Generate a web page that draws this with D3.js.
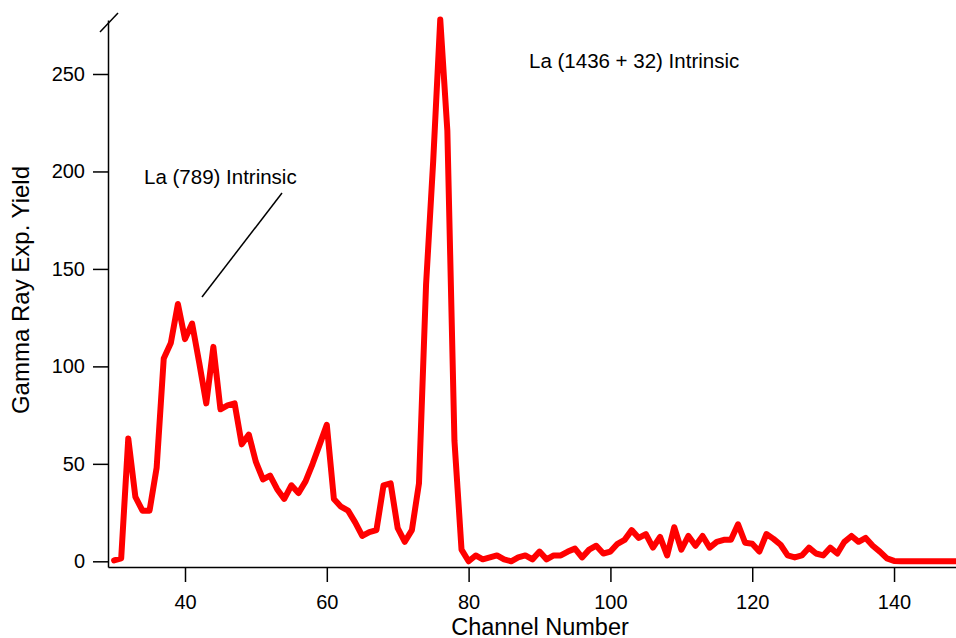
<!DOCTYPE html>
<html>
<head>
<meta charset="utf-8">
<script src="https://d3js.org/d3.v7.min.js"></script>
<style>
  body { margin: 0; background: #fff; }
  svg { display: block; font-family: "Liberation Sans", Arial, sans-serif; }
</style>
</head>
<body>
<svg id="chart" width="956" height="638"></svg>
<script>
// spectrum data: first channel, then yield per channel
var firstChannel = 30;
var yieldValues = [
    0.5, 1.5, 63, 33, 26, 26, 48, 104, 112, 132,      // 30-39
    114, 122, 102, 81, 110, 78, 80, 81, 60, 65,       // 40-49
    51, 42, 44, 37, 32, 39, 35, 41, 50, 60,           // 50-59
    70, 32, 28, 26, 20, 13, 15, 16, 39, 40,           // 60-69
    17, 10, 16, 40, 142, 205, 278, 221, 62, 6,        // 70-79
    0, 3, 1, 2, 3, 1, 0, 2, 3, 1,                     // 80-89
    5, 1, 3, 3, 5, 6.5, 2, 6, 8, 4,                   // 90-99
    5, 9, 11, 16, 12, 14, 7, 12.5, 3, 17.5,           // 100-109
    6, 13, 8, 13, 7, 10, 11, 11, 19, 9.5,             // 110-119
    9, 5, 14, 11.5, 8.5, 3, 2, 3, 7, 4,               // 120-129
    3, 7, 4, 10, 13, 10, 12, 8, 5, 1.5,               // 130-139
    0.2, 0, 0, 0, 0, 0, 0, 0, 0, 0                    // 140-149
];
var xTicks = [40, 60, 80, 100, 120, 140];
var yTicks = [0, 50, 100, 150, 200, 250];

// annotation labels
var annotations = [
    {text: "La (789) Intrinsic", x: 144, y: 184},
    {text: "La (1436 + 32) Intrinsic", x: 529, y: 68}
];

var svg = d3.select("#chart");

var x = d3.scaleLinear().domain([29.14, 148.74]).range([108, 956]);
var y = d3.scaleLinear().domain([-2.92, 277.7]).range([567, 20]);

var data = yieldValues.map(function(v, i) {
    return {channel: firstChannel + i, value: v};
});

//clip the trace at the right edge of the plot
svg.append("clipPath")
    .attr("id", "plot-clip")
    .append("rect")
    .attr("x", 95)
    .attr("y", 0)
    .attr("width", 956 - 95)
    .attr("height", 580);

//draw the trace
var line = d3.line()
    .x(d => x(d.channel))
    .y(d => y(d.value));

svg.append("path")
    .datum(data)
    .attr("clip-path", "url(#plot-clip)")
    .attr("d", line)
    .attr("fill", "none")
    .attr("stroke", "#ff0000")
    .attr("stroke-width", 6)
    .attr("stroke-linejoin", "round")
    .attr("stroke-linecap", "round");

//x axis
var xAxis = svg.append("g")
    .attr("transform", "translate(0,567)")
    .call(d3.axisBottom(x).tickValues(xTicks).tickSize(15).tickPadding(13).tickSizeOuter(0));
xAxis.select(".domain").attr("stroke-width", 1.5);
xAxis.selectAll(".tick line").attr("stroke-width", 1.5);
xAxis.selectAll("text")
    .style("font-size", "20px")
    .style("font-family", "Liberation Sans, Arial, sans-serif")
    .attr("fill", "#000");

//y axis
var yAxis = svg.append("g")
    .attr("transform", "translate(108,0)")
    .call(d3.axisLeft(y).tickValues(yTicks).tickSize(15).tickPadding(8).tickSizeOuter(0));
yAxis.select(".domain").attr("stroke-width", 1.5);
yAxis.selectAll(".tick line").attr("stroke-width", 1.5);
yAxis.selectAll("text")
    .style("font-size", "20px")
    .style("font-family", "Liberation Sans, Arial, sans-serif")
    .attr("fill", "#000");

//axis break mark at the top of y axis
svg.append("line")
    .attr("x1", 100).attr("y1", 32)
    .attr("x2", 118).attr("y2", 13)
    .attr("stroke", "#000")
    .attr("stroke-width", 1.5);

//axis titles
svg.append("text")
    .attr("x", 540)
    .attr("y", 634.5)
    .attr("text-anchor", "middle")
    .style("font-size", "23.5px")
    .text("Channel Number");

svg.append("text")
    .attr("transform", "translate(29,290) rotate(-90)")
    .attr("text-anchor", "middle")
    .style("font-size", "24px")
    .text("Gamma Ray Exp. Yield");

//annotations
svg.selectAll(".note")
    .data(annotations)
    .enter().append("text")
    .attr("class", "note")
    .attr("x", d => d.x)
    .attr("y", d => d.y)
    .style("font-size", "20.5px")
    .text(d => d.text);

//pointer line for the 789 peak
svg.append("line")
    .attr("x1", 282).attr("y1", 193)
    .attr("x2", 202).attr("y2", 297)
    .attr("stroke", "#000")
    .attr("stroke-width", 1.5);
</script>
</body>
</html>
